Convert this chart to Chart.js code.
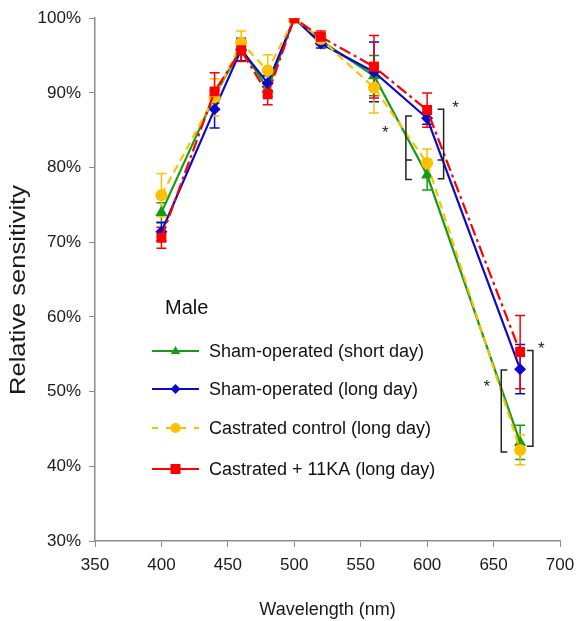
<!DOCTYPE html>
<html>
<head>
<meta charset="utf-8">
<script src="https://cdn.jsdelivr.net/npm/chart.js@4.4.1/dist/chart.umd.min.js"></script>
<style>
  body { margin: 0; background: #fff; }
  #wrap { width: 577px; height: 621px; }
</style>
</head>
<body>
<div id="wrap"><canvas id="chart" width="577" height="621"></canvas></div>
<script>
const wavelengths = [400, 440, 460, 480, 500, 520, 560, 600, 670];

const shamShort = [74.0, 89.6, 96.0, 90.5, 100, 97.0, 92.3, 79.0, 43.2];
const shamLong = [71.4, 87.8, 95.8, 91.3, 100, 96.6, 92.8, 86.6, 53.0];
const castControl = [76.3, 89.4, 96.7, 93.0, 100, 97.2, 90.7, 80.6, 42.2];
const castKA = [70.6, 90.2, 95.7, 89.8, 100, 97.5, 93.5, 87.7, 55.3];

const shamShortErr = [1.3, 1.0, 1.0, 1.0, 0, 0.6, 2.7, 2.0, 2.3];
const shamLongErr = [1.2, 2.5, 1.5, 1.0, 0, 0.6, 4.0, 0.8, 3.3];
const castControlErr = [2.9, 2.5, 1.6, 2.1, 0, 0.6, 3.4, 1.9, 2.0];
const castKAErr = [1.4, 2.5, 1.5, 1.4, 0, 0.8, 4.2, 2.3, 4.9];

const seriesLabels = [
    'Sham-operated (short day)',
    'Sham-operated (long day)',
    'Castrated control (long day)',
    'Castrated + 11KA (long day)'
];

const yTicks = [30, 40, 50, 60, 70, 80, 90, 100];
const xTicks = [350, 400, 450, 500, 550, 600, 650, 700];

// significance brackets: [wavelength, top %, bottom %, side, middle tick %]
const brackets = [
    [584, 86.9, 78.4, 'left', 81.0],
    [612.4, 87.8, 78.5, 'right', 81.0],
    [655.8, 52.9, 41.9, 'left', null],
    [679.6, 55.5, 42.7, 'right', null]
];
const stars = [[621.4, 88.4], [568.6, 85.0], [685.9, 56.1], [645, 51.0]];

const FONT = '"Liberation Sans", Arial, sans-serif';

const series = [
    {label: seriesLabels[0], data: shamShort, err: shamShortErr, color: '#169b16', style: 'triangle', radius: 7, dash: [], legendDash: [], order: 3},
    {label: seriesLabels[1], data: shamLong, err: shamLongErr, color: '#0a0ac8', style: 'rectRot', radius: 6, dash: [], legendDash: [], order: 2},
    {label: seriesLabels[2], data: castControl, err: castControlErr, color: '#ffc000', style: 'circle', radius: 6, dash: [8, 5], legendDash: [6, 8], order: 1},
    {label: seriesLabels[3], data: castKA, err: castKAErr, color: '#ff0000', style: 'rect', radius: 7, dash: [12, 4, 3, 4], legendDash: [], order: 0}
];

const toPoints = (vals) => {
    let mas = [];
    for (let i = 0; i < vals.length; i++) {
        mas.push({x: wavelengths[i], y: vals[i]});
    }
    return mas;
};

const marker = (ctx, style, px, py, r, color) => {
    ctx.fillStyle = color;
    ctx.beginPath();
    if (style === 'triangle') {
        ctx.moveTo(px, py - r);
        ctx.lineTo(px + r * 0.95, py + r * 0.6);
        ctx.lineTo(px - r * 0.95, py + r * 0.6);
    } else if (style === 'rectRot') {
        ctx.moveTo(px, py - r);
        ctx.lineTo(px + r, py);
        ctx.lineTo(px, py + r);
        ctx.lineTo(px - r, py);
    } else if (style === 'circle') {
        ctx.arc(px, py, r, 0, Math.PI * 2);
    } else {
        ctx.rect(px - r, py - r, r * 2, r * 2);
    }
    ctx.closePath();
    ctx.fill();
};

const extras = {
    id: 'extras',
    beforeDatasetsDraw(chart) {
        const {ctx, scales: {x, y}} = chart;
        ctx.save();
        ctx.lineWidth = 1.5;
        for (const s of series) {
            ctx.strokeStyle = s.color;
            s.data.forEach((v, i) => {
                const e = s.err[i];
                if (!e) return;
                const px = x.getPixelForValue(wavelengths[i]);
                const top = y.getPixelForValue(v + e);
                const bot = y.getPixelForValue(v - e);
                ctx.beginPath();
                ctx.moveTo(px, top); ctx.lineTo(px, bot);
                ctx.moveTo(px - 5, top); ctx.lineTo(px + 5, top);
                ctx.moveTo(px - 5, bot); ctx.lineTo(px + 5, bot);
                ctx.stroke();
            });
        }
        ctx.restore();
    },
    afterDraw(chart) {
        const {ctx, scales: {x, y}} = chart;
        ctx.save();

        // y axis title, a little wider than the plain font like the original
        ctx.save();
        ctx.translate(19, 290);
        ctx.rotate(-Math.PI / 2);
        ctx.scale(1.16, 1);
        ctx.fillStyle = '#1a1a1a';
        ctx.font = '22px ' + FONT;
        ctx.textAlign = 'center';
        ctx.textBaseline = 'middle';
        ctx.fillText('Relative sensitivity', 0, 0);
        ctx.restore();

        // brackets
        ctx.strokeStyle = '#222';
        ctx.lineWidth = 1.5;
        for (const b of brackets) {
            const px = x.getPixelForValue(b[0]);
            const t = y.getPixelForValue(b[1]);
            const bt = y.getPixelForValue(b[2]);
            const arm = b[3] === 'left' ? 6 : -6;
            ctx.beginPath();
            ctx.moveTo(px + arm, t); ctx.lineTo(px, t);
            ctx.lineTo(px, bt); ctx.lineTo(px + arm, bt);
            if (b[4] !== null) {
                const m = y.getPixelForValue(b[4]);
                ctx.moveTo(px, m); ctx.lineTo(px + arm, m);
            }
            ctx.stroke();
        }
        ctx.fillStyle = '#222';
        ctx.font = '17px ' + FONT;
        ctx.textAlign = 'center';
        ctx.textBaseline = 'middle';
        for (const st of stars) {
            ctx.fillText('*', x.getPixelForValue(st[0]), y.getPixelForValue(st[1]) + 3);
        }

        // legend
        ctx.textAlign = 'left';
        ctx.fillStyle = '#111';
        ctx.font = '20px ' + FONT;
        ctx.fillText('Male', 165, 308);
        const rows = [351, 389, 428, 469];
        ctx.font = '18px ' + FONT;
        series.forEach((s, i) => {
            const ly = rows[i];
            ctx.strokeStyle = s.color;
            ctx.lineWidth = 2;
            ctx.setLineDash(s.legendDash);
            ctx.beginPath();
            ctx.moveTo(152, ly); ctx.lineTo(199, ly);
            ctx.stroke();
            ctx.setLineDash([]);
            marker(ctx, s.style, 175.5, ly, 5, s.color);
            ctx.fillStyle = '#111';
            ctx.fillText(s.label, 209, ly + 1);
        });
        ctx.restore();
    }
};

const datasets = series.map(s => ({
    label: s.label,
    data: toPoints(s.data),
    borderColor: s.color,
    backgroundColor: s.color,
    borderWidth: 2.2,
    borderDash: s.dash,
    pointStyle: s.style,
    pointRadius: s.radius,
    pointBorderWidth: 0,
    pointBackgroundColor: s.color,
    tension: 0,
    order: s.order
}));

new Chart(document.getElementById('chart').getContext('2d'), {
    type: 'line',
    data: {datasets: datasets},
    options: {
        responsive: false,
        animation: false,
        layout: {padding: {left: 0, right: 17, top: 15, bottom: 0}},
        plugins: {legend: {display: false}, tooltip: {enabled: false}},
        scales: {
            x: {
                type: 'linear',
                min: xTicks[0],
                max: xTicks[xTicks.length - 1],
                afterBuildTicks: (scale) => { scale.ticks = xTicks.map(v => ({value: v})); },
                afterFit: (scale) => {
                    scale.height = 80;
                    scale.paddingLeft = 0;
                    scale.paddingRight = 0;
                },
                grid: {drawOnChartArea: false, drawTicks: true, tickLength: 6, color: '#8c8c8c'},
                border: {color: '#8c8c8c', width: 1.5},
                ticks: {font: {family: FONT, size: 17}, color: '#1a1a1a', padding: 8, maxRotation: 0},
                title: {display: true, text: 'Wavelength (nm)', font: {family: FONT, size: 18}, color: '#1a1a1a', padding: {top: 0, bottom: 0}}
            },
            y: {
                min: yTicks[0],
                max: yTicks[yTicks.length - 1],
                afterBuildTicks: (scale) => { scale.ticks = yTicks.map(v => ({value: v})); },
                afterFit: (scale) => { scale.width = 95; },
                grid: {drawOnChartArea: false, drawTicks: true, tickLength: 6, color: '#8c8c8c'},
                border: {color: '#8c8c8c', width: 1.5},
                ticks: {font: {family: FONT, size: 17}, color: '#1a1a1a', padding: 8, callback: v => v + '%'}
            }
        }
    },
    plugins: [extras]
});
</script>
</body>
</html>
